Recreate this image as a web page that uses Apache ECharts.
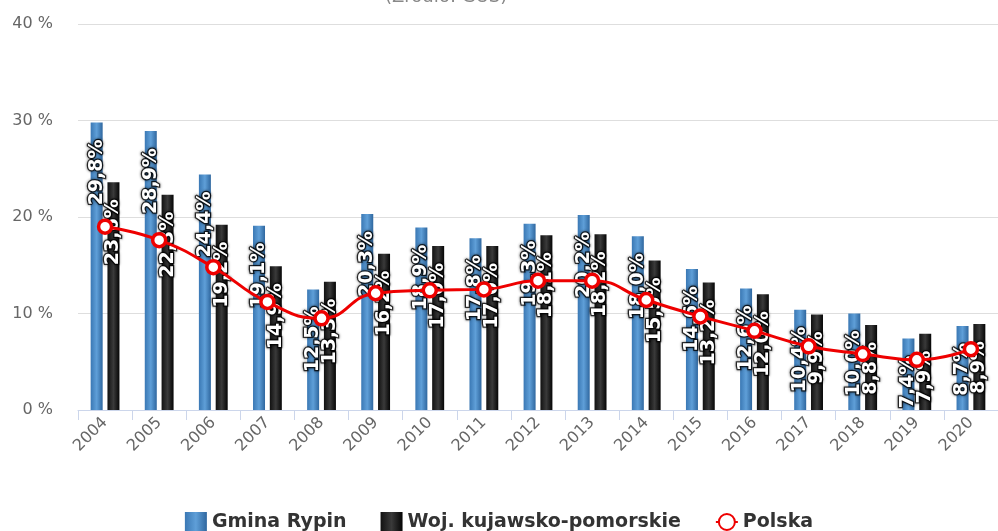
<!DOCTYPE html>
<html>
<head>
<meta charset="utf-8">
<script src="https://cdn.jsdelivr.net/npm/echarts@6/dist/echarts.min.js"></script>
<style>
  html, body { margin: 0; padding: 0; background: #fff; }
  #chart { width: 998px; height: 531px; }
</style>
</head>
<body>
<div id="chart"></div>
<script>
// dane
var years = ['2004', '2005', '2006', '2007', '2008', '2009', '2010', '2011', '2012',
  '2013', '2014', '2015', '2016', '2017', '2018', '2019', '2020'];
var gminaRypin = [29.8, 28.9, 24.4, 19.1, 12.5, 20.3, 18.9, 17.8, 19.3, 20.2, 18.0, 14.6, 12.6, 10.4, 10.0, 7.4, 8.7];
var wojewodztwo = [23.6, 22.3, 19.2, 14.9, 13.3, 16.2, 17.0, 17.0, 18.1, 18.2, 15.5, 13.2, 12.0, 9.9, 8.8, 7.9, 8.9];
var polska = [19.0, 17.6, 14.8, 11.2, 9.5, 12.1, 12.4, 12.5, 13.4, 13.4, 11.4, 9.7, 8.2, 6.6, 5.8, 5.2, 6.3];
var yTicks = [0, 10, 20, 30, 40];

var chart = echarts.init(document.getElementById('chart'));

// etykiety słupków
var barLabel = {
  show: true,
  position: 'insideTop',
  rotate: 90,
  align: 'right',
  verticalAlign: 'middle',
  distance: 17,
  color: '#fff',
  fontFamily: 'DejaVu Sans',
  fontWeight: 'bold',
  fontSize: 19,
  textBorderColor: 'rgba(0,0,0,0.75)',
  textBorderWidth: 2.5,
  textShadowColor: 'rgba(0,0,0,0.6)',
  textShadowBlur: 3,
  formatter: function (p) {
    return p.value.toFixed(1).replace('.', ',') + '%';
  }
};

chart.setOption({
  animation: false,
  graphic: [{
    type: 'text',
    left: 385,
    top: -12,
    style: {
      text: '(Źródło: GUS)',
      fill: '#888',
      font: '18px "DejaVu Sans"'
    }
  }],
  legend: {
    bottom: -6,
    left: 'center',
    itemGap: 34,
    itemWidth: 22,
    itemHeight: 20,
    textStyle: {
      color: '#333',
      fontFamily: 'DejaVu Sans',
      fontWeight: 'bold',
      fontSize: 19
    },
    data: [
      { name: 'Gmina Rypin', icon: 'rect' },
      { name: 'Woj. kujawsko-pomorskie', icon: 'rect' },
      { name: 'Polska' }
    ]
  },
  grid: {
    left: 78,
    right: -10,
    top: 24,
    bottom: 121,
    containLabel: false
  },
  xAxis: {
    type: 'category',
    data: years,
    axisLine: { lineStyle: { color: '#ccd6eb', width: 1 } },
    axisTick: { show: true, length: 10, alignWithLabel: false, lineStyle: { color: '#ccd6eb' } },
    axisLabel: {
      rotate: 45,
      color: '#666',
      fontFamily: 'DejaVu Sans',
      fontSize: 16,
      margin: 10
    }
  },
  yAxis: {
    type: 'value',
    min: yTicks[0],
    max: yTicks[yTicks.length - 1],
    interval: 10,
    axisLine: { show: false },
    axisTick: { show: false },
    splitLine: { lineStyle: { color: '#dedede', width: 1 } },
    axisLabel: {
      color: '#666',
      fontFamily: 'DejaVu Sans',
      fontSize: 16,
      margin: 25,
      formatter: '{value} %'
    }
  },
  series: [
    {
      name: 'Gmina Rypin',
      type: 'bar',
      barWidth: 12,
      barGap: '40%',
      itemStyle: {
        color: new echarts.graphic.LinearGradient(0, 0, 1, 0, [
          { offset: 0, color: '#3a78b4' },
          { offset: 0.5, color: '#5f9fd8' },
          { offset: 1, color: '#2f679f' }
        ])
      },
      label: barLabel,
      data: gminaRypin
    },
    {
      name: 'Woj. kujawsko-pomorskie',
      type: 'bar',
      barWidth: 12,
      itemStyle: {
        color: new echarts.graphic.LinearGradient(0, 0, 1, 0, [
          { offset: 0, color: '#111' },
          { offset: 0.5, color: '#3a3a3a' },
          { offset: 1, color: '#050505' }
        ])
      },
      label: barLabel,
      data: wojewodztwo
    },
    {
      name: 'Polska',
      type: 'line',
      smooth: true,
      z: 5,
      symbol: 'circle',
      symbolSize: 13,
      lineStyle: { color: '#ee0000', width: 3 },
      itemStyle: { color: '#fff', borderColor: '#ee0000', borderWidth: 3.5 },
      data: polska
    }
  ]
});
</script>
</body>
</html>
